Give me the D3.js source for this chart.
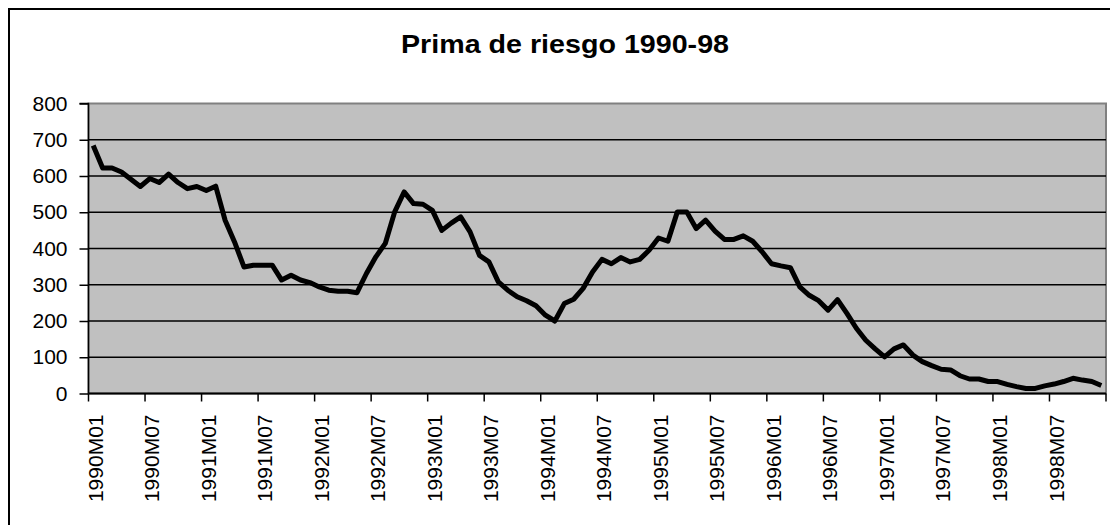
<!DOCTYPE html>
<html>
<head>
<meta charset="utf-8">
<script src="https://cdn.jsdelivr.net/npm/d3@7"></script>
<style>
  body { margin: 0; background: #fff; }
  svg { display: block; font-family: "Liberation Sans", Arial, sans-serif; }
</style>
</head>
<body>
<div id="chart"></div>
<script>
// Prima de riesgo, monthly 1990M01 - 1998M12
const years = [1990, 1991, 1992, 1993, 1994, 1995, 1996, 1997, 1998];
const yTicks = [0, 100, 200, 300, 400, 500, 600, 700, 800];
const values = [
  684, 622, 622, 611, 591, 571, 593, 582, 605, 582, 565, 571, // 1990
  560, 572, 478, 418, 349, 354, 354, 354, 313, 326, 313, 306, // 1991
  294, 285, 282, 282, 278, 331, 377, 414, 501, 556, 524, 522, // 1992
  505, 450, 470, 487, 446, 381, 363, 308, 285, 267, 256, 242, // 1993
  216, 200, 248, 260, 290, 335, 370, 358, 375, 363, 370, 395, // 1994
  429, 420, 501, 501, 455, 478, 448, 425, 425, 435, 420, 391, // 1995
  358, 352, 347, 294, 271, 256, 230, 259, 221, 180, 147, 123, // 1996
  101, 123, 134, 106, 88, 77, 67, 65, 49, 40, 40, 33,         // 1997
  33, 25, 19, 14, 14, 21, 26, 33, 42, 37, 33, 22              // 1998
];
const months = [];
years.forEach(y => {
  for (let m = 1; m <= 12; m++) months.push(y + 'M' + String(m).padStart(2, '0'));
});
const data = months.map((m, i) => ({ month: m, value: values[i] }));

const W = 1110, H = 525;
const margin = { top: 103.5, right: 4, bottom: 131.5, left: 88.5 };
const width = W - margin.left - margin.right;
const height = H - margin.top - margin.bottom;

const svg = d3.select('#chart').append('svg')
  .attr('width', W)
  .attr('height', H);

// outer chart frame
svg.append('rect')
  .attr('x', 9).attr('y', 9)
  .attr('width', W + 20).attr('height', H + 20)
  .attr('fill', '#fff')
  .attr('stroke', '#000')
  .attr('stroke-width', 2);

// title
svg.append('text')
  .attr('x', 565)
  .attr('y', 53)
  .attr('text-anchor', 'middle')
  .attr('textLength', 328)
  .attr('lengthAdjust', 'spacingAndGlyphs')
  .style('font-size', '26px')
  .style('font-weight', 'bold')
  .text('Prima de riesgo 1990-98');

const g = svg.append('g')
  .attr('transform', `translate(${margin.left},${margin.top})`);

const x = d3.scaleBand()
  .domain(months)
  .range([0, width]);

const y = d3.scaleLinear()
  .domain([0, 800])
  .range([height, 0]);

// plot area
g.append('rect')
  .attr('width', width)
  .attr('height', height)
  .attr('fill', '#c0c0c0')
  .attr('stroke', '#808080')
  .attr('stroke-width', 2);

// gridlines
g.append('g')
  .selectAll('line')
  .data(yTicks.filter(d => d > 0 && d < 800))
  .join('line')
  .attr('x1', 0).attr('x2', width)
  .attr('y1', d => y(d)).attr('y2', d => y(d))
  .attr('stroke', '#000')
  .attr('stroke-width', 1.5);

// y axis
const yAxis = g.append('g')
  .call(d3.axisLeft(y).tickValues(yTicks).tickSize(9).tickPadding(12));
yAxis.selectAll('text').style('font-size', '21px').attr('fill', '#000');
yAxis.selectAll('line, path').attr('stroke', '#000').attr('stroke-width', 1.5);
yAxis.select('.domain').attr('d', `M-9,0H0V${height}`);

// x axis: ticks between categories every 6 months
const xAxisG = g.append('g').attr('transform', `translate(0,${height})`);
xAxisG.append('line')
  .attr('x1', 0).attr('x2', width)
  .attr('stroke', '#000').attr('stroke-width', 2);
const labelMonths = months.filter((m, i) => i % 6 === 0);
xAxisG.selectAll('.tick')
  .data(labelMonths.concat(['end']))
  .join('line')
  .attr('class', 'tick')
  .attr('x1', d => d === 'end' ? width : x(d))
  .attr('x2', d => d === 'end' ? width : x(d))
  .attr('y1', 0).attr('y2', 8)
  .attr('stroke', '#000').attr('stroke-width', 1.5);
xAxisG.selectAll('.xlab')
  .data(labelMonths)
  .join('text')
  .attr('class', 'xlab')
  .attr('transform', d => `translate(${x(d) + x.bandwidth() / 2 + 2},21) rotate(-90)`)
  .attr('dy', '0.35em')
  .attr('text-anchor', 'end')
  .style('font-size', '21px')
  .text(d => d);

// series line
const line = d3.line()
  .x(d => x(d.month) + x.bandwidth() / 2)
  .y(d => y(d.value));

g.append('path')
  .datum(data)
  .attr('fill', 'none')
  .attr('stroke', '#000')
  .attr('stroke-width', 5)
  .attr('stroke-linejoin', 'round')
  .attr('d', line);
</script>
</body>
</html>
